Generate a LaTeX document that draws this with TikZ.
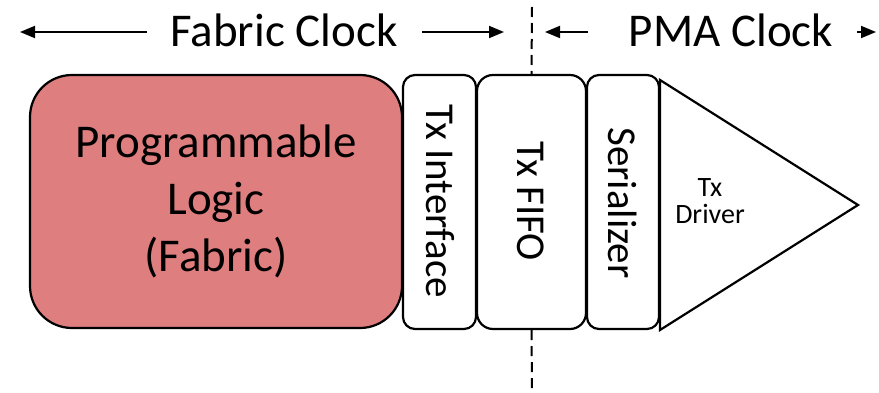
\documentclass[tikz,border=0pt]{standalone}
\usepackage{fontspec}
\setmainfont{Carlito}
\usetikzlibrary{arrows.meta}
\definecolor{fabricred}{RGB}{222,126,126}
\tikzset{
  blk/.style={draw=black, line width=2.2pt, fill=white, inner sep=0pt},
  vlabel/.style={rotate=-90, font=\fontsize{41}{50}\selectfont},
  clk/.style={line width=1.8pt, -{Triangle[length=15pt,width=12pt]}},
  bigtxt/.style={font=\fontsize{47}{57}\selectfont},
  border/.style={line width=2pt, dash pattern=on 10pt off 6pt}
}
\begin{document}
\begin{tikzpicture}[x=1pt,y=-1pt]
\useasboundingbox (0,0) rectangle (879,393);

% programmable logic block
\node[blk, fill=fabricred, rounded corners=42pt, minimum width=372pt, minimum height=253pt,
      bigtxt, align=center] (fabric) at (216,201.5) {Programmable\\Logic\\(Fabric)};

% transmit path stages
\node[blk, rounded corners=12pt, minimum width=73pt, minimum height=254pt] (txif) at (439.5,202) {};
\node[vlabel] (txiflbl) at (440,201) {Tx Interface};
\node[blk, rounded corners=16pt, minimum width=109pt, minimum height=254pt] (fifo) at (531.5,202) {};
\node[vlabel] (fifolbl) at (531,201) {Tx FIFO};
\node[blk, rounded corners=12pt, minimum width=72pt, minimum height=254pt] (ser) at (623,202) {};
\node[vlabel] (serlbl) at (623,203) {Serializer};

% output driver
\draw[line width=2.2pt, fill=white, line join=miter] (660,80) -- (858,205) -- (660,330) -- cycle;
\node[font=\fontsize{28}{27}\selectfont, align=center] (drv) at (710,201) {Tx\\Driver};

% clock domain boundary
\coordinate (bTop) at (532,7);
\draw[border] (bTop) -- (fifo.north);
\coordinate (bBot) at (532,393);
\draw[border] (fifo.south) -- (bBot);

% clock domain labels
\node[bigtxt, anchor=base] (fc) at (284,47) {Fabric Clock};
\node[bigtxt, anchor=base] (pc) at (731,47) {PMA Clock};
\coordinate (fcL0) at (147,32); \coordinate (fcL1) at (20,32);
\coordinate (fcR0) at (422,32); \coordinate (fcR1) at (504,32);
\coordinate (pcL0) at (588,32); \coordinate (pcL1) at (545,32);
\coordinate (pcR0) at (857,32); \coordinate (pcR1) at (876,32);
\draw[clk] (fcL0) -- (fcL1);
\draw[clk] (fcR0) -- (fcR1);
\draw[clk] (pcL0) -- (pcL1);
\draw[clk] (pcR0) -- (pcR1);
\end{tikzpicture}
\end{document}
